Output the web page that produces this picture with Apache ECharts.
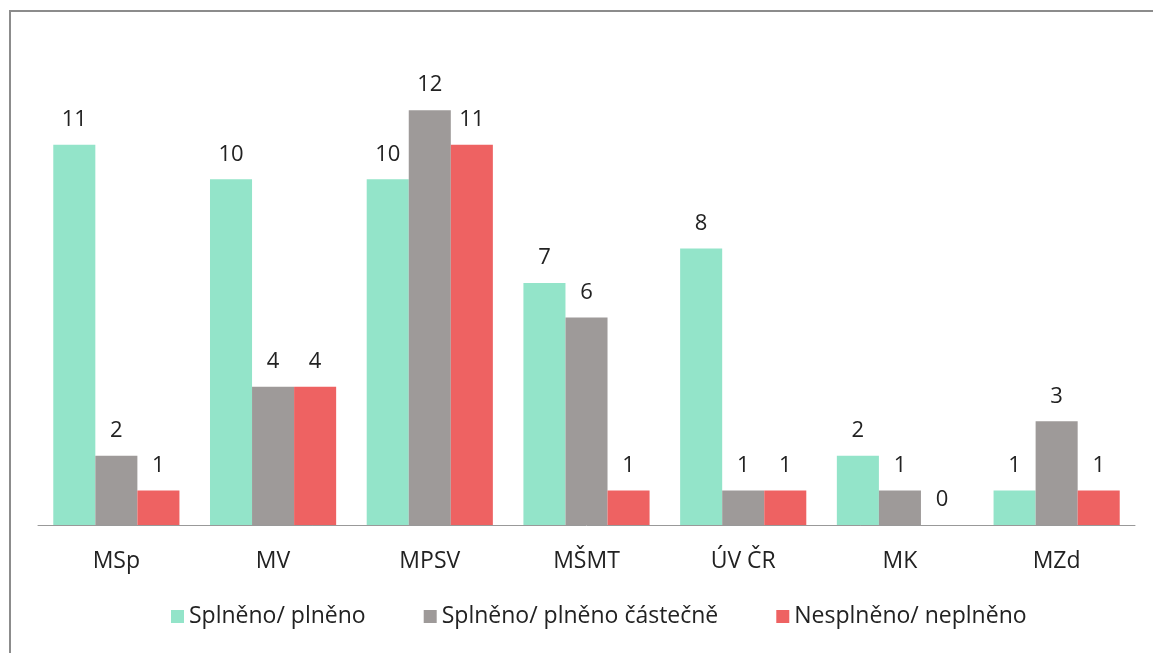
<!DOCTYPE html>
<html><head><meta charset="utf-8">
<script src="https://cdn.jsdelivr.net/npm/echarts@6/dist/echarts.min.js"></script>
<style>html,body{margin:0;padding:0;background:#fff}#c{width:1153px;height:653px;position:relative}
#frame{position:absolute;left:9px;top:10px;width:1200px;height:700px;border:2px solid #8c8c8c;box-sizing:border-box;pointer-events:none}</style>
</head><body><div id="c"></div><div id="frame"></div>
<script>
const categories = ["MSp", "MV", "MPSV", "MŠMT", "ÚV ČR", "MK", "MZd"];
const splneno = [11, 10, 10, 7, 8, 2, 1];
const castecne = [2, 4, 12, 6, 1, 1, 3];
const nesplneno = [1, 4, 11, 1, 1, 0, 1];
const seriesNames = ["Splněno/ plněno", "Splněno/ plněno částečně", "Nesplněno/ neplněno"];
const colors = ["#93e4c9", "#9e9a99", "#ee6262"];
const font = "'Open Sans', sans-serif";
const chart = echarts.init(document.getElementById('c'));
const mk = (name, data, color) => ({
  name, type: 'bar', data, barGap: '0%', barCategoryGap: '19.5%',
  itemStyle: {color},
  label: {show: true, position: 'top', distance: 14, color: '#222', fontSize: 22, fontFamily: font},
  emphasis: {disabled: true}
});
chart.setOption({
  animation: false,
  color: colors,
  grid: {left: 38, right: 18, top: 41, bottom: 128},
  legend: {
    bottom: 20, left: 166, itemWidth: 13, itemHeight: 13, itemGap: 58, itemStyle: {borderWidth: 0},
    icon: 'rect',
    textStyle: {fontSize: 23, color: '#222', fontFamily: font}
  },
  xAxis: {
    type: 'category', data: categories,
    axisLine: {lineStyle: {color: '#999', width: 1}},
    axisTick: {show: false},
    axisLabel: {fontSize: 23, color: '#222', margin: 25, fontFamily: font}
  },
  yAxis: {type: 'value', min: 0, max: 14, show: false, splitLine: {show: false}},
  series: [mk(seriesNames[0], splneno, colors[0]), mk(seriesNames[1], castecne, colors[1]), mk(seriesNames[2], nesplneno, colors[2])]
});
</script></body></html>
